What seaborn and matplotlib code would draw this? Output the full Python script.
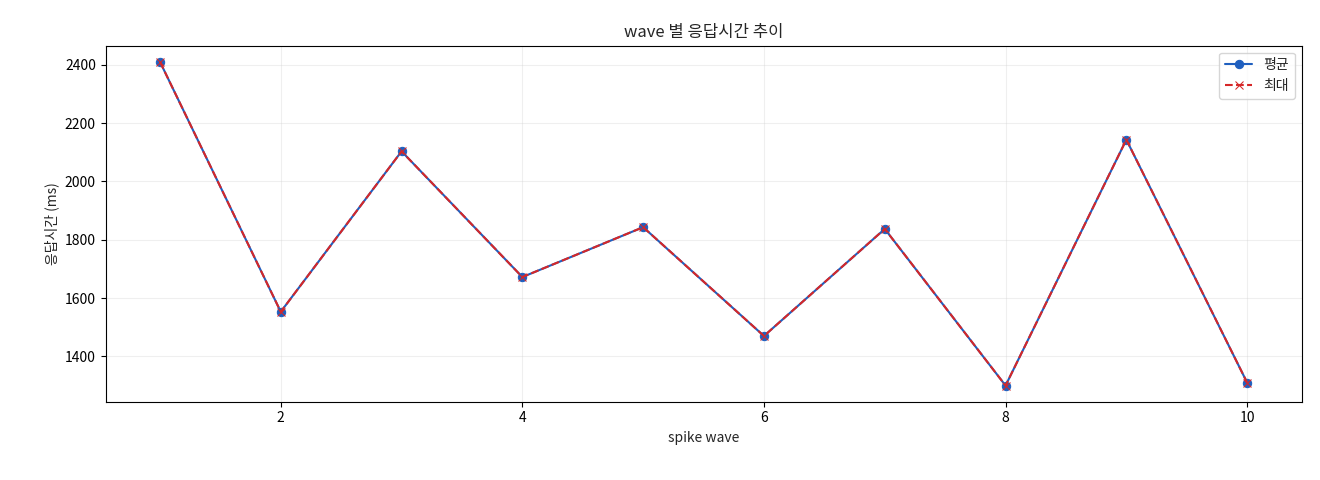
import matplotlib
matplotlib.use("Agg")
import matplotlib.pyplot as plt
import seaborn as sns
import pandas as pd

waves = [1, 2, 3, 4, 5, 6, 7, 8, 9, 10]
avg_ms = [2410, 1553, 2103, 1672, 1843, 1470, 1837, 1300, 2143, 1310]
max_ms = [2410, 1553, 2103, 1672, 1843, 1470, 1837, 1300, 2143, 1310]

sns.set_style("ticks")
plt.rcParams['font.family'] = ['Noto Sans CJK KR', 'DejaVu Sans']
plt.rcParams['axes.unicode_minus'] = False
plt.rcParams['axes.edgecolor'] = 'black'
plt.rcParams['xtick.color'] = 'black'
plt.rcParams['ytick.color'] = 'black'

df = pd.DataFrame({"wave": waves, "avg": avg_ms, "max": max_ms})
fig, ax = plt.subplots(figsize=(13.2, 4.8), dpi=100)
sns.lineplot(data=df, x="wave", y="avg", ax=ax, color="#1f5fbf", linewidth=1.5)
sns.lineplot(data=df, x="wave", y="max", ax=ax, color="#d62728", linewidth=1.5)
l1, l2 = ax.lines[0], ax.lines[1]
l1.set_marker("o"); l1.set_markersize(6); l1.set_markeredgecolor("#1f5fbf"); l1.set_markerfacecolor("#1f5fbf")
l1.set_label("평균")
l2.set_marker("x"); l2.set_markersize(6); l2.set_linestyle("--"); l2.set_markeredgecolor("#d62728")
l2.set_label("최대")
ax.set_title("wave 별 응답시간 추이", fontsize=12)
ax.set_xlabel("spike wave", fontsize=10)
ax.set_ylabel("응답시간 (ms)", fontsize=10)
ax.tick_params(labelsize=10)
ax.grid(True, alpha=0.3)
ax.legend(handles=[l1, l2], loc="upper right", fontsize=10)
fig.subplots_adjust(left=0.08, right=0.986, top=0.905, bottom=0.163)
fig.savefig("out.png", dpi=100)
